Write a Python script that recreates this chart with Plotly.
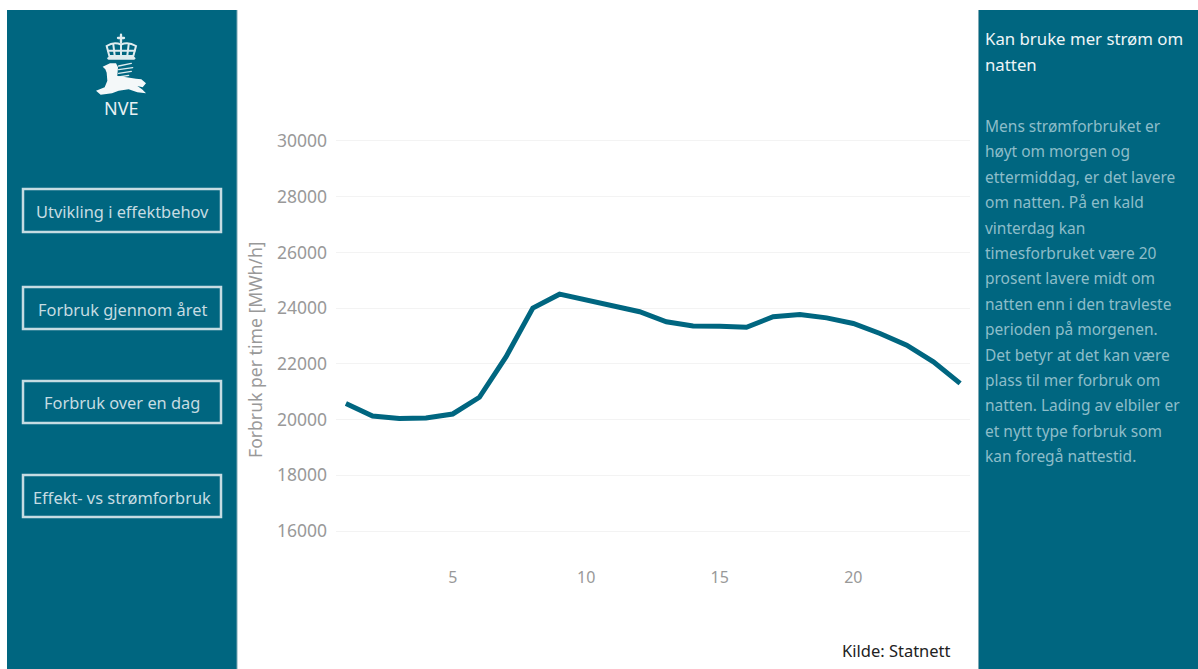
import base64
import plotly.graph_objects as go

WIDTH, HEIGHT = 1198, 669
PLOT_LEFT, PLOT_RIGHT, PLOT_TOP, PLOT_BOTTOM = 336, 970, 110, 560
FONT = "Noto Sans"
TEAL = "#006680"

# Hourly consumption over a winter day
hours = list(range(1, 25))
consumption = [20580, 20130, 20040, 20060, 20200, 20800, 22260, 24000,
               24500, 24290, 24090, 23870, 23510, 23360, 23350, 23310,
               23690, 23770, 23650, 23450, 23090, 22670, 22070, 21300]

y_ticks = [16000, 18000, 20000, 22000, 24000, 26000, 28000, 30000]
x_ticks = [5, 10, 15, 20]
y_title = "Forbruk per time [MWh/h]"
source = "Kilde: Statnett"

menu_labels = ["Utvikling i effektbehov", "Forbruk gjennom året",
               "Forbruk over en dag", "Effekt- vs strømforbruk"]
menu_boxes = [(189, 232), (287, 329), (381, 423), (475, 517)]
menu_text_y = [211, 309, 402, 497]

heading = ["Kan bruke mer strøm om", "natten"]
body = ["Mens strømforbruket er", "høyt om morgen og",
        "ettermiddag, er det lavere", "om natten. På en kald",
        "vinterdag kan", "timesforbruket være 20",
        "prosent lavere midt om", "natten enn i den travleste",
        "perioden på morgenen.", "Det betyr at det kan være",
        "plass til mer forbruk om", "natten. Lading av elbiler er",
        "et nytt type forbruk som", "kan foregå nattestid."]

# Crown and horse emblem for the side panel
EMBLEM = """<svg xmlns="http://www.w3.org/2000/svg" viewBox="0 0 210 270">
<g fill="none" stroke="#dfecef" stroke-linecap="round">
<path d="M105 14V38M96 24H114" stroke-width="7"/>
<path d="M62 48Q84 34 105 44Q126 34 150 48L142 78H70Z" stroke-width="6"/>
<path d="M82 44L86 76M105 44V76M128 44L124 76M66 62H146" stroke-width="6"/>
<path d="M68 85H144" stroke-width="8"/>
<path d="M98 108L136 100M98 119L140 113M98 130L136 124M98 141L128 136" stroke-width="4"/>
</g>
<path fill="#f4f8f9" d="M50 110L72 100L90 100L96 112L94 138L112 140L150 146L166 148L180 160
L170 172L154 168L168 178L180 190L154 187L128 178L98 182L78 190L44 194L30 182
L56 172L64 152L62 128L58 118Z"/>
</svg>"""
emblem_uri = "data:image/svg+xml;base64," + base64.b64encode(EMBLEM.encode()).decode()

PLOT_W = PLOT_RIGHT - PLOT_LEFT
PLOT_H = PLOT_BOTTOM - PLOT_TOP


# Paper coordinates are relative to the plot area, so page pixels are converted
def px(x):
    return (x - PLOT_LEFT) / PLOT_W


def py(y):
    return (PLOT_BOTTOM - y) / PLOT_H


def label(text, x, y, size, color, anchor="left"):
    return dict(text=text, x=px(x), y=py(y), xref="paper", yref="paper",
                xanchor=anchor, yanchor="middle", showarrow=False,
                font=dict(family=FONT, size=size, color=color))


shapes = [
    dict(type="rect", xref="paper", yref="paper", x0=px(7), x1=px(237),
         y0=py(HEIGHT), y1=py(10), fillcolor=TEAL, line_width=0, layer="below"),
    dict(type="rect", xref="paper", yref="paper", x0=px(978), x1=px(WIDTH),
         y0=py(HEIGHT), y1=py(10), fillcolor=TEAL, line_width=0, layer="below"),
    # Lighter hairlines along the inner panel edges
    dict(type="line", xref="paper", yref="paper", x0=px(237), x1=px(237),
         y0=py(HEIGHT), y1=py(10), line=dict(color="#7fa9b5", width=1)),
    dict(type="line", xref="paper", yref="paper", x0=px(978.5), x1=px(978.5),
         y0=py(HEIGHT), y1=py(10), line=dict(color="#7fa9b5", width=1)),
]
for top, bottom in menu_boxes:
    shapes.append(dict(type="rect", xref="paper", yref="paper",
                       x0=px(23), x1=px(221), y0=py(bottom), y1=py(top),
                       line=dict(color="#c6dce2", width=2.5)))

annotations = [label("NVE", 121, 108, 18, "#e8f1f3", "center"),
               label(source, 896, 650, 16.5, "#222222", "center"),
               label(y_title, 255, 350, 17.6, "#999999", "center")]
annotations[-1]["textangle"] = -90
for text, y in zip(menu_labels, menu_text_y):
    annotations.append(label(text, 122, y, 16.4, "#c6dce2", "center"))
for i, text in enumerate(heading):
    annotations.append(label(text, 983, 39 + i * 25, 16.8, "#eef5f7"))
for i, text in enumerate(body):
    annotations.append(label(text, 983, 126 + i * 25.4, 15.5, "#8dbdc9"))

fig = go.Figure(go.Scatter(x=hours, y=consumption, mode="lines",
                           line=dict(color=TEAL, width=5), hoverinfo="skip"))
fig.update_layout(
    width=WIDTH, height=HEIGHT, autosize=False,
    margin=dict(l=PLOT_LEFT, r=WIDTH - PLOT_RIGHT, t=PLOT_TOP,
                b=HEIGHT - PLOT_BOTTOM, pad=0),
    paper_bgcolor="white", plot_bgcolor="white", showlegend=False,
    font=dict(family=FONT, size=17, color="#999999"),
    shapes=shapes, annotations=annotations,
    images=[dict(source=emblem_uri, xref="paper", yref="paper",
                 x=px(86), y=py(30), sizex=70 / PLOT_W, sizey=90 / PLOT_H,
                 xanchor="left", yanchor="top", sizing="stretch", layer="above")],
    xaxis=dict(range=[0.63, 24.37], tickvals=x_ticks, showgrid=False,
               zeroline=False, showline=False, ticks="", ticklabelstandoff=6,
               tickfont=dict(size=16, color="#999999")),
    yaxis=dict(range=[14959, 31111], tickvals=y_ticks, tickformat="d",
               gridcolor="#f3f3f3", gridwidth=1, zeroline=False, showline=False,
               ticks="", ticklabelstandoff=8,
               tickfont=dict(size=17.5, color="#999999")),
)
fig.write_html("out.html", config=dict(displayModeBar=False))
